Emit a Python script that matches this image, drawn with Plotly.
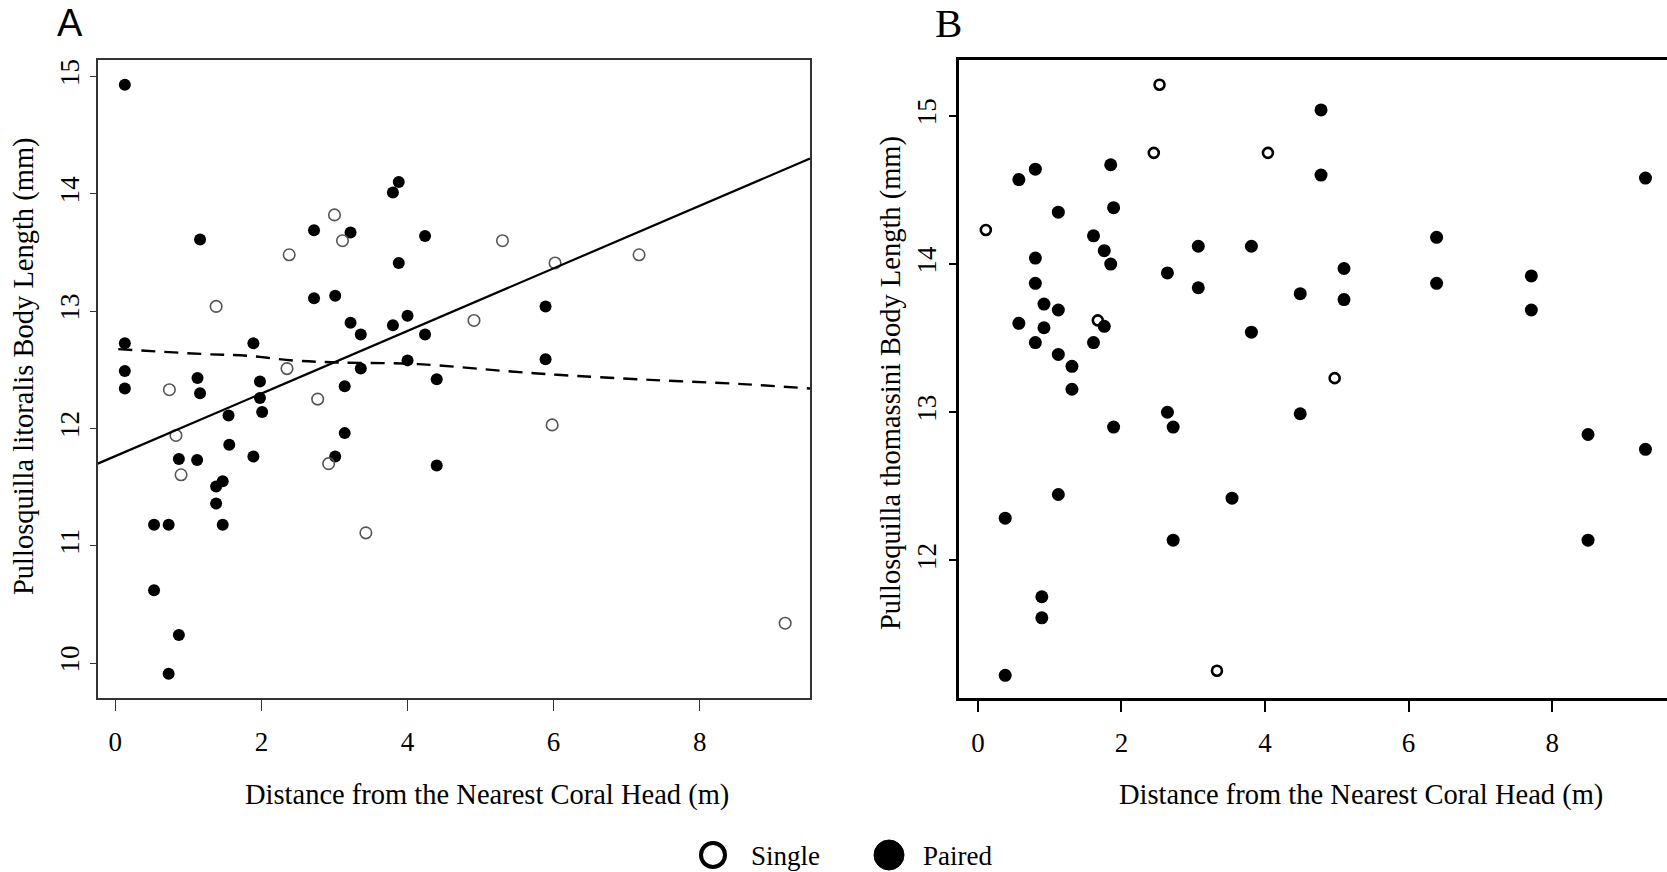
import plotly.graph_objects as go

W, H = 1667, 872
SERIF = "Liberation Serif, Times New Roman, serif"

# ---------------- Panel A data (P. litoralis) ----------------
a_paired_x = [0.13, 0.13, 0.13, 0.13, 1.16, 1.125, 1.16, 1.55, 1.89, 1.98, 1.98, 2.01,
              2.72, 2.72, 3.01, 3.22, 3.22, 3.36, 3.36, 3.14, 3.80, 3.88, 3.88, 3.80,
              4.00, 4.00, 4.24, 4.24, 4.40, 5.89, 5.89, 3.14,
              0.87, 1.12, 1.56, 1.89, 3.01, 4.40, 1.38, 1.47, 1.38, 0.53, 0.73, 1.47,
              0.53, 0.87, 0.73]
a_paired_y = [14.93, 12.725, 12.49, 12.34, 13.61, 12.43, 12.30, 12.11, 12.725, 12.40, 12.26, 12.14,
              13.69, 13.11, 13.13, 13.67, 12.90, 12.80, 12.51, 12.36, 14.01, 14.10, 13.41, 12.88,
              12.96, 12.58, 13.64, 12.80, 12.42, 13.04, 12.59, 11.96,
              11.74, 11.73, 11.86, 11.76, 11.76, 11.685, 11.505, 11.55, 11.36, 11.18, 11.18, 11.18,
              10.62, 10.24, 9.91]
a_single_x = [3.00, 3.11, 2.38, 5.30, 6.02, 7.17, 1.38, 4.91, 2.35, 0.74, 2.77, 5.98, 0.83,
              2.92, 0.90, 3.43, 9.17]
a_single_y = [13.82, 13.60, 13.48, 13.60, 13.41, 13.48, 13.04, 12.92, 12.51, 12.33, 12.25, 12.03, 11.94,
              11.70, 11.605, 11.11, 10.34]

# regression line (solid) and smooth trend (dashed)
a_fit_intercept = 11.764
a_fit_slope = 0.2667
a_dash_x = [0.04, 1.24, 1.81, 2.44, 3.07, 4.15, 5.42, 6.05, 7.32, 8.58, 9.51]
a_dash_y = [12.676, 12.633, 12.619, 12.579, 12.562, 12.548, 12.485, 12.457, 12.414, 12.378, 12.34]

# ---------------- Panel B data (P. thomassini) ----------------
b_single_x = [2.53, 2.45, 4.04, 0.11, 1.67, 4.97, 3.33]
b_single_y = [15.21, 14.75, 14.75, 14.23, 13.62, 13.23, 11.256]
b_paired_x = [4.78, 0.80, 0.57, 1.85, 4.78, 9.30, 1.89, 1.12, 1.61, 6.39, 1.76, 3.07, 3.81,
              0.80, 1.85, 5.10, 2.64, 7.71, 0.80, 6.39, 3.07, 4.49, 5.10, 0.92, 1.12, 7.71,
              0.57, 0.92, 1.76, 3.81, 0.80, 1.61, 1.12, 1.31, 1.31, 2.64, 4.49, 1.89, 2.72,
              8.50, 9.30, 1.12, 3.54, 0.38, 2.72, 8.50, 0.89, 0.89, 0.38]
b_paired_y = [15.04, 14.64, 14.57, 14.67, 14.60, 14.58, 14.38, 14.35, 14.19, 14.18, 14.09, 14.12, 14.12,
              14.04, 14.00, 13.97, 13.94, 13.92, 13.87, 13.87, 13.84, 13.80, 13.76, 13.73, 13.69, 13.69,
              13.60, 13.57, 13.58, 13.54, 13.47, 13.47, 13.39, 13.31, 13.155, 13.00, 12.99, 12.90, 12.90,
              12.85, 12.75, 12.445, 12.42, 12.285, 12.137, 12.137, 11.755, 11.613, 11.225]

x_ticks = [0, 2, 4, 6, 8]
a_y_ticks = [10, 11, 12, 13, 14, 15]
b_y_ticks = [12, 13, 14, 15]

a_xrange = [-0.24, 9.51]
a_yrange = [9.70, 15.14]
b_xrange = [-0.268, 9.60]
b_yrange = [11.07, 15.38]

fig = go.Figure()

# Panel A
fig.add_trace(go.Scatter(x=a_paired_x, y=a_paired_y, mode="markers", name="Paired",
                         marker=dict(symbol="circle", size=12, color="black"),
                         xaxis="x", yaxis="y", showlegend=False))
fig.add_trace(go.Scatter(x=a_single_x, y=a_single_y, mode="markers", name="Single",
                         marker=dict(symbol="circle-open", size=11.5, color="#555555",
                                     line=dict(width=1.6, color="#555555")),
                         xaxis="x", yaxis="y", showlegend=False))
fit_x = a_xrange
fit_y = [a_fit_intercept + a_fit_slope * v for v in fit_x]
fig.add_trace(go.Scatter(x=fit_x, y=fit_y, mode="lines", line=dict(color="black", width=2.2),
                         xaxis="x", yaxis="y", showlegend=False, hoverinfo="skip"))
fig.add_trace(go.Scatter(x=a_dash_x, y=a_dash_y, mode="lines",
                         line=dict(color="black", width=2.4, dash="14px,9px", shape="spline"),
                         xaxis="x", yaxis="y", showlegend=False, hoverinfo="skip"))

# Panel B
fig.add_trace(go.Scatter(x=b_paired_x, y=b_paired_y, mode="markers", name="Paired",
                         marker=dict(symbol="circle", size=13, color="black"),
                         xaxis="x2", yaxis="y2", showlegend=False))
fig.add_trace(go.Scatter(x=b_single_x, y=b_single_y, mode="markers", name="Single",
                         marker=dict(symbol="circle-open", size=10, color="black",
                                     line=dict(width=2.6, color="black")),
                         xaxis="x2", yaxis="y2", showlegend=False))

def px_x(p):
    return p / W

def px_y(p):
    return 1 - p / H

tickfont = dict(family=SERIF, size=27, color="black")

fig.update_layout(
    width=W, height=H,
    margin=dict(l=0, r=0, t=0, b=0),
    paper_bgcolor="white", plot_bgcolor="white",
    xaxis=dict(domain=[px_x(97.8), px_x(810)], range=a_xrange, tickvals=x_ticks,
               showgrid=False, zeroline=False, showline=True, mirror=True,
               linecolor="#333333", linewidth=1.6, ticks="outside", ticklen=11,
               tickwidth=1.4, tickcolor="#333333", tickfont=tickfont,
               ticklabelstandoff=7, anchor="y"),
    yaxis=dict(domain=[px_y(698.3), px_y(60)], range=a_yrange, tickvals=a_y_ticks,
               showgrid=False, zeroline=False, showline=True, mirror=True,
               linecolor="#333333", linewidth=1.6, ticks="outside", ticklen=6,
               tickwidth=1.4, tickcolor="#333333", tickfont=tickfont, tickangle=-90,
               ticklabelstandoff=0, anchor="x"),
    xaxis2=dict(domain=[px_x(958.7), 1.0], range=b_xrange, tickvals=x_ticks,
                showgrid=False, zeroline=False, showline=True, mirror=True,
                linecolor="black", linewidth=2.6, ticks="outside", ticklen=11,
                tickwidth=2, tickcolor="black", tickfont=tickfont,
                ticklabelstandoff=7, anchor="y2"),
    yaxis2=dict(domain=[px_y(698.3), px_y(59.5)], range=b_yrange, tickvals=b_y_ticks,
                showgrid=False, zeroline=False, showline=True, mirror=False,
                linecolor="black", linewidth=2.6, ticks="outside", ticklen=7,
                tickwidth=2, tickcolor="black", tickfont=tickfont, tickangle=-90,
                ticklabelstandoff=2, anchor="x2"),
    showlegend=False,
)

ann = []
# panel letters
ann.append(dict(text="A", x=px_x(69.5), y=px_y(22.5), xref="paper", yref="paper",
                showarrow=False, xanchor="center", yanchor="middle",
                font=dict(family="Liberation Sans Narrow, Liberation Sans, Arial, sans-serif",
                          size=38, color="black")))
ann.append(dict(text="B", x=px_x(948), y=px_y(22.5), xref="paper", yref="paper",
                showarrow=False, xanchor="center", yanchor="middle",
                font=dict(family=SERIF, size=41, color="black")))
# axis titles
titlefont = dict(family=SERIF, size=28.5, color="black")
ann.append(dict(text="Distance from the Nearest Coral Head (m)", x=px_x(487), y=px_y(795),
                xref="paper", yref="paper", showarrow=False, xanchor="center", yanchor="middle",
                font=titlefont))
ann.append(dict(text="Distance from the Nearest Coral Head (m)", x=px_x(1361), y=px_y(795),
                xref="paper", yref="paper", showarrow=False, xanchor="center", yanchor="middle",
                font=titlefont))
ann.append(dict(text="Pullosquilla litoralis Body Length (mm)", x=px_x(24), y=px_y(366),
                xref="paper", yref="paper", showarrow=False, xanchor="center", yanchor="middle",
                textangle=-90, font=titlefont))
ann.append(dict(text="Pullosquilla thomassini Body Length (mm)", x=px_x(891), y=px_y(383),
                xref="paper", yref="paper", showarrow=False, xanchor="center", yanchor="middle",
                textangle=-90, font=titlefont))
# legend texts
legfont = dict(family=SERIF, size=27, color="black")
ann.append(dict(text="Single", x=px_x(749), y=px_y(856), xref="paper", yref="paper",
                showarrow=False, xanchor="left", yanchor="middle", font=legfont))
ann.append(dict(text="Paired", x=px_x(921), y=px_y(856), xref="paper", yref="paper",
                showarrow=False, xanchor="left", yanchor="middle", font=legfont))
fig.update_layout(annotations=ann)

# legend symbols
fig.add_shape(type="circle", xref="paper", yref="paper", xsizemode="pixel", ysizemode="pixel",
              xanchor=px_x(713), yanchor=px_y(855), x0=-12, x1=12, y0=-12, y1=12,
              line=dict(color="black", width=4), fillcolor="rgba(0,0,0,0)")
fig.add_shape(type="circle", xref="paper", yref="paper", xsizemode="pixel", ysizemode="pixel",
              xanchor=px_x(889), yanchor=px_y(855), x0=-15, x1=15, y0=-15, y1=15,
              line=dict(color="black", width=1), fillcolor="black")

fig.write_html("out.html")
